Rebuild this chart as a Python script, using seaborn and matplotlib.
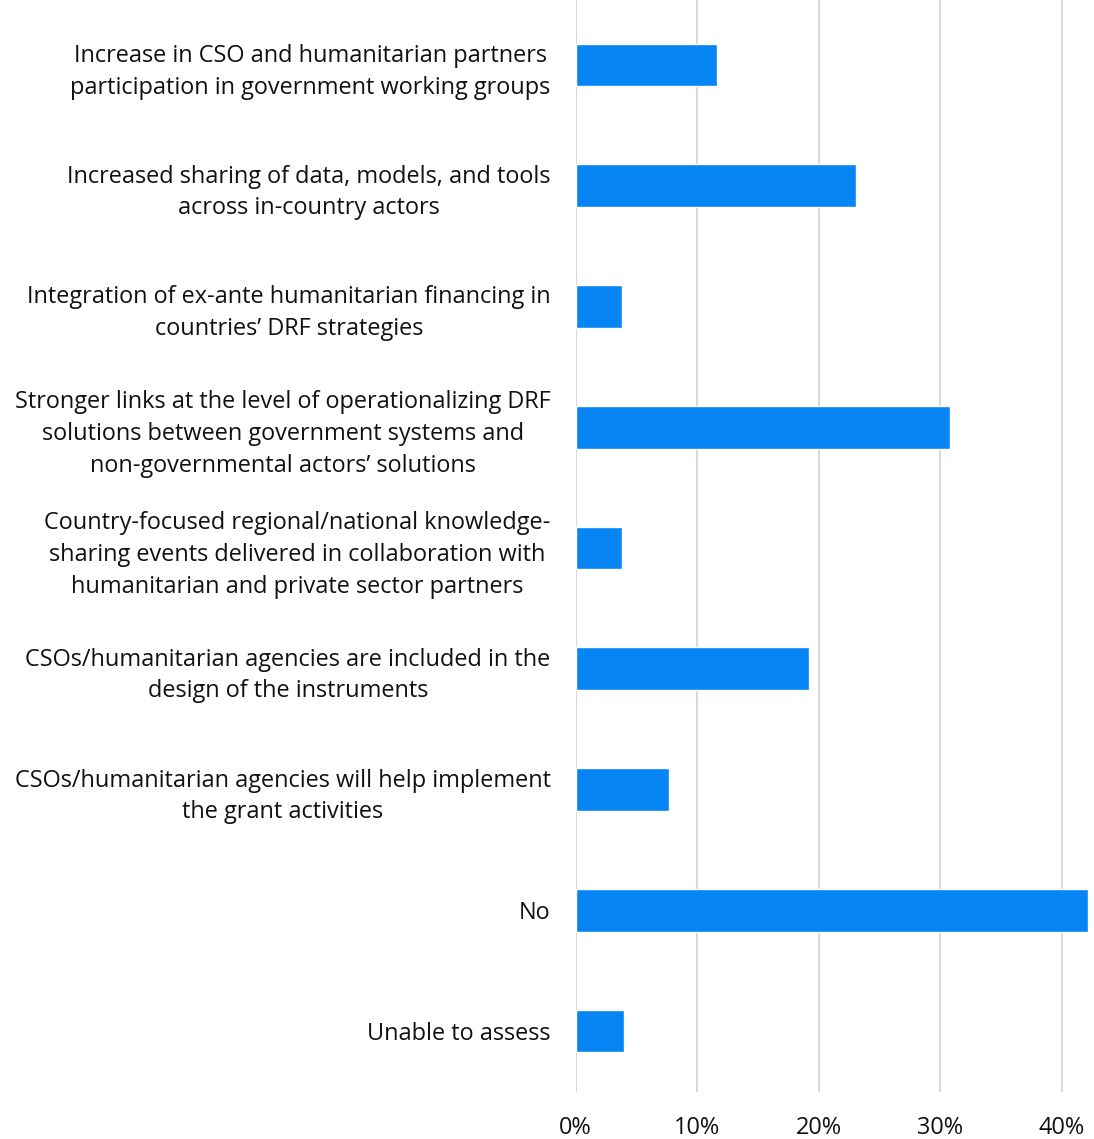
import matplotlib
matplotlib.use("Agg")
import matplotlib.pyplot as plt
import seaborn as sns
import pandas as pd
from matplotlib.ticker import PercentFormatter

categories = [
    "Increase in CSO and humanitarian partners\nparticipation in government working groups",
    "Increased sharing of data, models, and tools\nacross in-country actors",
    "Integration of ex-ante humanitarian financing in\ncountries’ DRF strategies",
    "Stronger links at the level of operationalizing DRF\nsolutions between government systems and\nnon-governmental actors’ solutions",
    "Country-focused regional/national knowledge-\nsharing events delivered in collaboration with\nhumanitarian and private sector partners",
    "CSOs/humanitarian agencies are included in the\ndesign of the instruments",
    "CSOs/humanitarian agencies will help implement\nthe grant activities",
    "No",
    "Unable to assess",
]
shares = [0.116, 0.231, 0.038, 0.308, 0.038, 0.192, 0.077, 0.422, 0.040]
x_ticks = [0.0, 0.1, 0.2, 0.3, 0.4]

df = pd.DataFrame({"category": categories, "share": shares})

sns.set_theme(style="white")
plt.rcParams["font.family"] = ["Open Sans", "DejaVu Sans"]

fig = plt.figure(figsize=(10.94, 11.39), dpi=100)
ax = fig.add_axes([575.7 / 1094, 1 - 1092 / 1139, (1093 - 575.7) / 1094, 1092 / 1139])

sns.barplot(data=df, x="share", y="category", orient="h", color="#0885F5",
            saturation=1, width=0.355, ax=ax)

ax.set_xlim(0, (1093 - 575.7) / 12.15 / 100)
ax.set_ylim(8.505, -0.538)
ax.set_xticks(x_ticks)
ax.xaxis.set_major_formatter(PercentFormatter(1.0, decimals=0))
ax.grid(axis="x", color="#D9D9D9", linewidth=1.5)
ax.set_axisbelow(True)
for s in ax.spines.values():
    s.set_visible(False)
ax.set_xlabel("")
ax.set_ylabel("")
ax.tick_params(axis="y", length=0, pad=18, labelsize=16.9, labelcolor="#111111")
ax.tick_params(axis="x", length=0, pad=17, labelsize=16.9, labelcolor="#111111")
for lbl in ax.get_yticklabels():
    lbl.set_multialignment("center")
    lbl.set_linespacing(1.43)

fig.savefig("out.png", dpi=100)
